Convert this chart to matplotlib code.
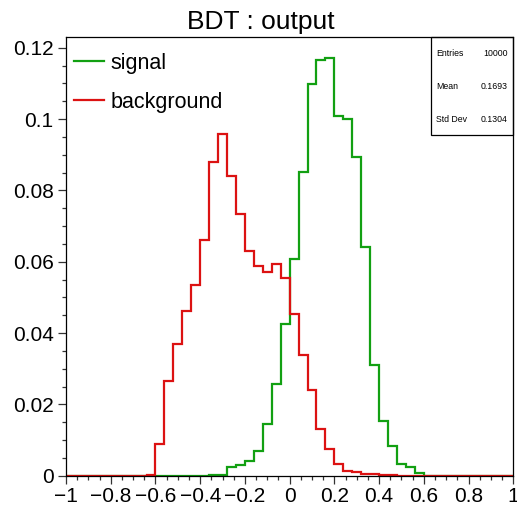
import numpy as np
import matplotlib
matplotlib.use("Agg")
import matplotlib.pyplot as plt
from matplotlib.ticker import MultipleLocator, FuncFormatter
from matplotlib.patches import Rectangle

plt.rcParams['font.family'] = ['Liberation Sans', 'DejaVu Sans']

# BDT output: 50 bins on [-1, 1], normalised fractions per bin
bin_edges = np.linspace(-1.0, 1.0, 51)

signal = [
    0, 0, 0, 0, 0, 0, 0, 0, 0, 0,
    0, 0, 0, 0, 0, 0, 0.0002, 0.0002, 0.0023, 0.0030,
    0.0042, 0.0070, 0.0144, 0.0258, 0.0426, 0.0607, 0.0851, 0.1098, 0.1165, 0.1171,
    0.1010, 0.1000, 0.0895, 0.0641, 0.0311, 0.0153, 0.0083, 0.0033, 0.0023, 0.0008,
    0, 0, 0, 0, 0, 0, 0, 0, 0, 0,
]

background = [
    0, 0, 0, 0, 0, 0, 0, 0, 0, 0.0003,
    0.0090, 0.0266, 0.0370, 0.0462, 0.0535, 0.0661, 0.0881, 0.0958, 0.0840, 0.0734,
    0.0631, 0.0589, 0.0572, 0.0594, 0.0554, 0.0454, 0.0339, 0.0239, 0.0132, 0.0076,
    0.0032, 0.0014, 0.0009, 0.0004, 0.0004, 0.0001, 0.0003, 0, 0, 0,
    0, 0, 0, 0, 0, 0, 0, 0, 0, 0,
]

series_labels = ["signal", "background"]
title = "BDT : output"
stats = [("Entries", "10000"), ("Mean", "0.1693"), ("Std Dev", "0.1304")]

green = "#12a012"
red = "#dc1212"

W, H = 517, 508
fig = plt.figure(figsize=(W / 100, H / 100), dpi=100)
ax = fig.add_axes([66 / W, (H - 475.7) / H, (513.3 - 66) / W, (475.7 - 37.3) / H])

ax.stairs(signal, bin_edges, baseline=None, color=green, lw=1.6, label=series_labels[0])
ax.stairs(background, bin_edges, baseline=None, color=red, lw=1.6, label=series_labels[1])

ax.set_xlim(-1, 1)
ax.set_ylim(0, 1.05 * max(max(signal), max(background)))

ax.xaxis.set_major_locator(MultipleLocator(0.2))
ax.xaxis.set_minor_locator(MultipleLocator(0.05))
ax.yaxis.set_major_locator(MultipleLocator(0.02))
ax.yaxis.set_minor_locator(MultipleLocator(0.005))


def fmt(v, pos):
    s = "%g" % round(v, 6)
    if s == "-0":
        s = "0"
    return s.replace("-", "\u2212")


ax.xaxis.set_major_formatter(FuncFormatter(fmt))
ax.yaxis.set_major_formatter(FuncFormatter(fmt))

ax.tick_params(which="both", direction="out", top=False, right=False, width=0.9, colors="#333333",
               labelcolor="black", labelsize=15)
ax.tick_params(which="major", length=6)
ax.tick_params(which="minor", length=3)
ax.tick_params(axis="y", pad=3)
ax.tick_params(axis="x", pad=2)
for sp in ax.spines.values():
    sp.set_linewidth(0.9)
    sp.set_color("black")

leg = ax.legend(loc="upper left", frameon=False, fontsize=15.5, handlelength=1.4,
                handletextpad=0.3, labelspacing=0.85, borderaxespad=0.0, borderpad=0.35,
                bbox_to_anchor=(0.0, 0.982))

fig.text(261 / W, 1 - 22 / H, title, ha="center", va="center", fontsize=19)

# statistics box in the upper right corner
bx0, bx1, by0, by1 = 430.5, 513.3, 37.3, 135
fig.patches.append(Rectangle((bx0 / W, 1 - by1 / H), (bx1 - bx0) / W, (by1 - by0) / H,
                             transform=fig.transFigure, fill=False, edgecolor="black",
                             linewidth=0.9))
for i, (k, v) in enumerate(stats):
    yy = 1 - (53 + 33.5 * i) / H
    fig.text(436 / W, yy, k, ha="left", va="center", fontsize=6.3)
    fig.text(508 / W, yy, v, ha="right", va="center", fontsize=6.3)

fig.savefig("out.png", dpi=100)
